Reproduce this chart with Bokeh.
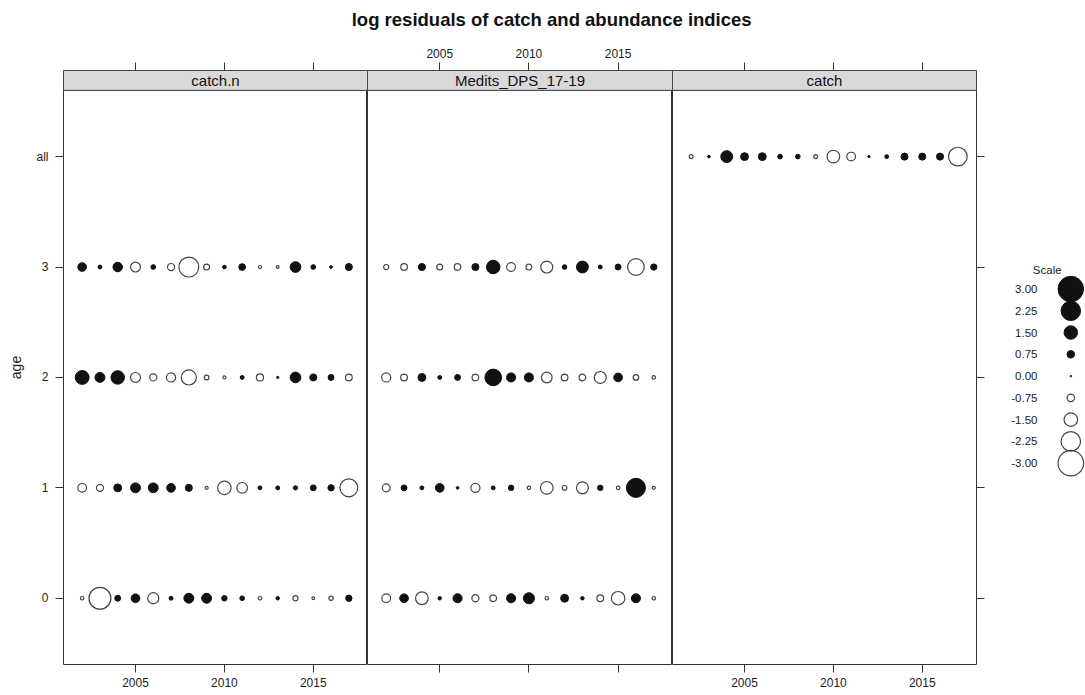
from bokeh.plotting import figure
from bokeh.layouts import column, row
from bokeh.models import Range1d, FixedTicker, LinearAxis, BoxAnnotation, Label
from bokeh.embed import file_html
from bokeh.resources import INLINE
from bokeh.core.properties import value

# ---------------- data ----------------
TITLE = "log residuals of catch and abundance indices"
years = list(range(2002, 2018))
ages = ["0", "1", "2", "3", "all"]
year_ticks = [2005, 2010, 2015]
panel_names = ["catch.n", "Medits_DPS_17-19", "catch"]

# catch.n residuals by age (2002..2017)
catchn_age0 = [-0.25, -2.55, 0.55, 0.90, -1.20, 0.30, 1.05, 1.05, 0.50, 0.40, -0.25, 0.25, -0.45, -0.15, -0.35, 0.60]
catchn_age1 = [-0.90, -0.70, 0.80, 1.05, 1.05, 0.90, 0.70, -0.20, -1.50, -1.15, 0.30, 0.30, 0.35, 0.55, 0.60, -2.05]
catchn_age2 = [1.55, 1.05, 1.50, -1.05, -0.70, -0.95, -1.70, -0.40, -0.20, 0.30, -0.70, 0.10, 1.15, 0.70, 0.55, -0.65]
catchn_age3 = [0.90, 0.30, 1.00, -1.05, 0.40, -0.70, -2.30, -0.55, 0.27, 0.65, -0.20, -0.15, 1.15, 0.40, 0.15, 0.70]

# Medits_DPS_17-19 residuals by age (2002..2017)
medits_age0 = [-0.90, 0.90, -1.40, 0.25, 0.95, -0.70, -0.65, 0.95, 1.20, -0.25, 0.80, 0.25, -0.65, -1.50, 0.95, -0.25]
medits_age1 = [-0.80, 0.55, 0.30, 0.90, 0.15, -0.95, 0.30, 0.50, -0.25, -1.40, -0.40, -1.30, 0.50, -0.25, 2.20, -0.20]
medits_age2 = [-0.95, -0.65, 0.80, 0.30, 0.55, -0.65, 1.90, 0.95, 0.95, -1.15, -0.65, -0.65, -1.30, 0.90, -0.50, -0.25]
medits_age3 = [-0.45, -0.65, 0.70, -0.55, -0.65, 0.70, 1.50, -0.90, -0.55, -1.30, 0.40, 1.30, 0.30, 0.55, -1.90, 0.60]

# catch residuals (age "all", 2002..2017)
catch_all = [-0.30, 0.15, 1.30, 0.80, 0.80, 0.40, 0.40, -0.30, -1.40, -0.90, 0.10, 0.30, 0.70, 0.70, 0.70, -2.15]

scale_values = [3.00, 2.25, 1.50, 0.75, 0.00, -0.75, -1.50, -2.25, -3.00]
scale_labels = ["3.00", "2.25", "1.50", "0.75", "0.00", "-0.75", "-1.50", "-2.25", "-3.00"]

panel_data = [
    {"0": catchn_age0, "1": catchn_age1, "2": catchn_age2, "3": catchn_age3},
    {"0": medits_age0, "1": medits_age1, "2": medits_age2, "3": medits_age3},
    {"all": catch_all},
]

# ---------------- style ----------------
FONT = "Liberation Sans"
FRAME_COL = "#333333"
TEXT_COL = "#222222"
PAGE_W, PAGE_H = 1085, 695
TITLE_H = 40
PH = PAGE_H - TITLE_H
XR = (2000.95, 2018.05)
YR = (-0.6, 4.78)
STRIP_BOTTOM = 4.6


def bubble(v):
    return 1.5 + 8.0 * abs(v)


def style_axis(ax, show_labels, ticks):
    ax.ticker = FixedTicker(ticks=ticks)
    ax.axis_line_color = None
    ax.major_tick_in = 0
    ax.major_tick_out = 8
    ax.minor_tick_in = 0
    ax.minor_tick_out = 0
    ax.major_tick_line_color = FRAME_COL
    ax.major_label_text_font = FONT
    ax.major_label_text_font_size = "12px"
    ax.major_label_text_color = TEXT_COL
    ax.major_label_standoff = 5
    if not show_labels:
        ax.major_label_overrides = {t: "" for t in ticks}


def make_panel(idx, width, left_axis, right_axis, top_labels, bottom_labels):
    p = figure(width=width, height=PH, output_backend="svg", toolbar_location=None,
               x_range=Range1d(*XR), y_range=Range1d(*YR),
               x_axis_location=None, y_axis_location=None,
               min_border_left=63 if left_axis else 0,
               min_border_right=20 if right_axis else 0,
               min_border_top=30, min_border_bottom=31)
    p.grid.visible = False
    p.outline_line_color = FRAME_COL
    p.outline_line_width = 1
    p.background_fill_color = "white"
    p.border_fill_color = "white"

    top = LinearAxis()
    style_axis(top, top_labels, year_ticks)
    p.add_layout(top, "above")
    bot = LinearAxis()
    style_axis(bot, bottom_labels, year_ticks)
    p.add_layout(bot, "below")
    if left_axis:
        la = LinearAxis()
        style_axis(la, True, [0, 1, 2, 3, 4])
        la.major_label_overrides = {i: a for i, a in enumerate(ages)}
        la.major_label_standoff = 7
        la.axis_label = "age"
        la.axis_label_text_font = FONT
        la.axis_label_text_font_size = "14px"
        la.axis_label_text_font_style = "normal"
        la.axis_label_text_color = TEXT_COL
        la.axis_label_standoff = 9
        p.add_layout(la, "left")
    if right_axis:
        ra = LinearAxis()
        style_axis(ra, False, [0, 1, 2, 3, 4])
        p.add_layout(ra, "right")

    data = panel_data[idx]
    for k, age in enumerate(ages):
        vals = data.get(age)
        if vals is None:
            continue
        px = [y for y, v in zip(years, vals) if v >= 0]
        ps = [bubble(v) for v in vals if v >= 0]
        nx = [y for y, v in zip(years, vals) if v < 0]
        ns = [bubble(v) for v in vals if v < 0]
        p.scatter(x=px, y=[k] * len(px), size=ps, marker="circle",
                  fill_color="#111111", line_color="#111111", line_width=1)
        p.scatter(x=nx, y=[k] * len(nx), size=ns, marker="circle",
                  fill_color=None, line_color="#444444", line_width=1.2)

    strip = BoxAnnotation(bottom=STRIP_BOTTOM, fill_color="#d9d9d9", fill_alpha=1.0,
                          line_color=FRAME_COL, line_width=1, line_alpha=1.0)
    p.add_layout(strip)
    lab = Label(x=(XR[0] + XR[1]) / 2, y=(STRIP_BOTTOM + YR[1]) / 2, text=panel_names[idx],
                text_align="center", text_baseline="middle", text_font=FONT,
                text_font_size="15px", text_color="#111111")
    p.add_layout(lab)
    return p


f1 = make_panel(0, 63 + 304, True, False, False, True)
f2 = make_panel(1, 305, False, False, True, False)
f3 = make_panel(2, 304 + 20, False, True, False, True)

# legend figure
LEG_W = PAGE_W - (367 + 305 + 324)
lg = figure(width=LEG_W, height=PH, output_backend="svg", toolbar_location=None,
            x_range=Range1d(0, 1), y_range=Range1d(17.25, -10.04),
            x_axis_location=None, y_axis_location=None,
            min_border_left=0, min_border_right=0, min_border_top=0, min_border_bottom=0)
lg.grid.visible = False
lg.outline_line_color = None
idxs = list(range(len(scale_values)))
lg.text(x=[0.46] * len(idxs), y=idxs, text=scale_labels, text_font=value(FONT),
        text_font_size="11.5px", text_align="right", text_baseline="middle", text_color=TEXT_COL)
lg.text(x=[0.57], y=[-0.875], text=["Scale"], text_font=value(FONT),
        text_font_size="11.5px", text_align="center", text_baseline="middle", text_color=TEXT_COL)
pi = [i for i, v in zip(idxs, scale_values) if v >= 0]
ni = [i for i, v in zip(idxs, scale_values) if v < 0]
lg.scatter(x=[0.835] * len(pi), y=pi, size=[bubble(scale_values[i]) for i in pi], marker="circle",
           fill_color="#111111", line_color="#111111", line_width=1)
lg.scatter(x=[0.835] * len(ni), y=ni, size=[bubble(scale_values[i]) for i in ni], marker="circle",
           fill_color=None, line_color="#444444", line_width=1.2)

# title figure
tf = figure(width=PAGE_W, height=TITLE_H, output_backend="svg", toolbar_location=None,
            x_range=Range1d(0, 1), y_range=Range1d(0, 1),
            x_axis_location=None, y_axis_location=None,
            min_border_left=0, min_border_right=0, min_border_top=0, min_border_bottom=0)
tf.grid.visible = False
tf.outline_line_color = None
tf.text(x=[0.508], y=[0.53], text=[TITLE], text_font=value(FONT), text_font_size="18.5px",
        text_font_style="bold", text_align="center", text_baseline="middle", text_color="#111111")

layout = column(tf, row(f1, f2, f3, lg, spacing=0), spacing=0)
open("out.html", "w").write(file_html(layout, INLINE))
